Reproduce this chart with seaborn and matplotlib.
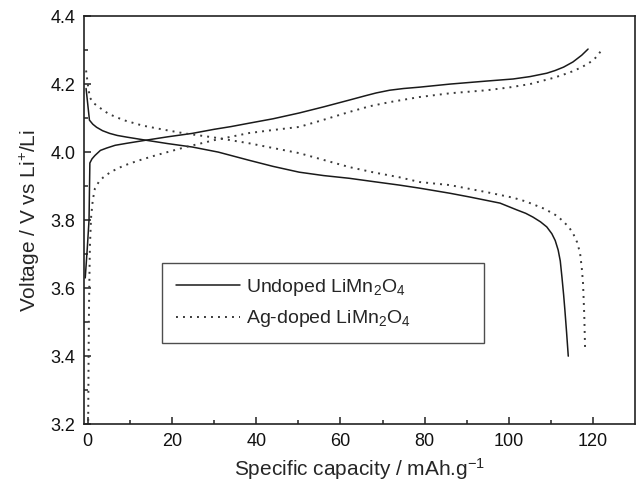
import matplotlib
matplotlib.use("Agg")
import matplotlib.pyplot as plt
import seaborn as sns

sns.set_theme(style="white")
plt.rcParams['font.family'] = ['Liberation Sans', 'DejaVu Sans']
plt.rcParams['mathtext.fontset'] = 'custom'
plt.rcParams['mathtext.rm'] = 'Liberation Sans'
plt.rcParams['mathtext.it'] = 'Liberation Sans'

# Undoped LiMn2O4 - charge
und_chg_x = [-0.6, -0.1, 0.3, 0.5, 1.0, 1.7, 3.0, 4.5, 6.5, 9.3, 13.8, 19.0, 24.8, 30.0, 34.0, 38.3, 44.0,
             50.2, 56.0, 62.1, 66.0, 68.5, 71.7, 75.0, 78.8, 86.0, 94.8, 101.0, 105.0, 109.0, 111.0,
             113.0, 115.2, 117.3, 118.8]
und_chg_y = [3.63, 3.72, 3.80, 3.968, 3.980, 3.990, 4.005, 4.012, 4.020, 4.026, 4.035, 4.045, 4.055, 4.067, 4.075,
             4.085, 4.098, 4.115, 4.133, 4.153, 4.166, 4.174, 4.182, 4.187, 4.191, 4.200, 4.209, 4.215, 4.222,
             4.232, 4.240, 4.250, 4.265, 4.285, 4.303]
# Undoped LiMn2O4 - discharge
und_dis_x = [-0.4, 0.4, 1.2, 2.1, 3.5, 5.2, 7.0, 9.3, 13.8, 19.0, 24.8, 31.0, 38.3, 44.0, 50.2, 56.0, 62.1,
             68.0, 74.0, 78.8, 86.0, 90.7, 97.9, 101.9, 104.0, 105.7, 107.5, 109.0, 110.2, 111.0, 111.7,
             112.2, 112.6, 113.0, 113.3, 113.7, 114.1]
und_dis_y = [4.187, 4.094, 4.082, 4.073, 4.063, 4.055, 4.049, 4.044, 4.035, 4.025, 4.015, 4.000, 3.976, 3.958,
             3.941, 3.931, 3.923, 3.913, 3.903, 3.894, 3.879, 3.868, 3.850, 3.830, 3.820, 3.809, 3.795, 3.780,
             3.760, 3.740, 3.712, 3.680, 3.632, 3.580, 3.535, 3.470, 3.400]
# Ag-doped LiMn2O4 - charge
ag_chg_x = [0.1, 0.2, 0.3, 0.5, 0.8, 1.2, 1.7, 2.6, 3.7, 5.5, 8.5, 12.0, 16.0, 23.3, 30.0, 38.3, 44.0, 50.2,
            56.0, 62.1, 67.0, 71.7, 78.8, 86.0, 94.8, 100.0, 105.0, 110.5, 113.0, 115.0, 117.0, 118.5,
            120.0, 121.0, 122.0]
ag_chg_y = [3.21, 3.40, 3.55, 3.72, 3.81, 3.86, 3.893, 3.912, 3.926, 3.942, 3.960, 3.975, 3.990, 4.015, 4.035,
            4.056, 4.065, 4.074, 4.095, 4.118, 4.135, 4.147, 4.162, 4.173, 4.182, 4.190, 4.200, 4.218, 4.228,
            4.237, 4.248, 4.258, 4.270, 4.283, 4.300]
# Ag-doped LiMn2O4 - discharge
ag_dis_x = [-0.4, 0.0, 0.5, 1.5, 2.9, 5.0, 8.5, 13.0, 18.0, 23.0, 30.0, 38.3, 44.0, 50.2, 56.0, 62.1, 68.0,
            74.0, 78.8, 86.0, 94.8, 97.9, 101.0, 104.0, 108.1, 109.8, 111.5, 113.0, 114.2, 115.2, 116.2,
            116.9, 117.3, 117.6, 117.9, 118.1]
ag_dis_y = [4.240, 4.200, 4.160, 4.143, 4.130, 4.112, 4.094, 4.078, 4.066, 4.055, 4.043, 4.026, 4.012, 3.997,
            3.977, 3.956, 3.940, 3.926, 3.912, 3.903, 3.882, 3.874, 3.866, 3.855, 3.835, 3.824, 3.812, 3.795,
            3.780, 3.762, 3.735, 3.703, 3.660, 3.615, 3.520, 3.418]

series_names = ["Undoped LiMn$_2$O$_4$", "Ag-doped LiMn$_2$O$_4$"]

fig = plt.figure(figsize=(6.41, 4.87), dpi=100)
ax = fig.add_axes([0.131, 0.129, 0.860, 0.838])

solid_kw = dict(color="#1a1a1a", lw=1.1, linestyle="-")
dot_kw = dict(color="#3a3a3a", lw=1.4, linestyle=(0, (1.0, 2.6)))

sns.lineplot(x=und_chg_x, y=und_chg_y, sort=False, estimator=None, ax=ax, label=series_names[0], **solid_kw)
sns.lineplot(x=und_dis_x, y=und_dis_y, sort=False, estimator=None, ax=ax, **solid_kw)
sns.lineplot(x=ag_chg_x, y=ag_chg_y, sort=False, estimator=None, ax=ax, label=series_names[1], **dot_kw)
sns.lineplot(x=ag_dis_x, y=ag_dis_y, sort=False, estimator=None, ax=ax, **dot_kw)

ax.set_xlim(-0.9, 130)
ax.set_ylim(3.2, 4.4)
ax.set_xticks([0, 20, 40, 60, 80, 100, 120])
ax.set_xticks([10, 30, 50, 70, 90, 110], minor=True)
ax.set_yticks([3.2, 3.4, 3.6, 3.8, 4.0, 4.2, 4.4])
ax.set_yticklabels(["3.2", "3.4", "3.6", "3.8", "4.0", "4.2", "4.4"])
ax.set_yticks([3.3, 3.5, 3.7, 3.9, 4.1, 4.3], minor=True)
ax.tick_params(axis="both", which="both", direction="in", top=False, right=False,
               left=True, bottom=True, colors="#222222", labelcolor="#111111")
ax.tick_params(axis="both", which="major", length=5, width=1.1, labelsize=13, pad=6)
ax.tick_params(axis="both", which="minor", length=3, width=1.1)
for s in ax.spines.values():
    s.set_color("#222222")
    s.set_linewidth(1.2)

ax.set_xlabel("Specific capacity / mAh.g$^{-1}$", fontsize=15, labelpad=5)
ax.set_ylabel("Voltage / V vs Li$^{+}$/Li", fontsize=15, labelpad=6)

leg = ax.legend(loc="lower left", bbox_to_anchor=(0.142, 0.199, 0.583, 0.199), mode="expand",
                frameon=True, fancybox=False, edgecolor="#222222", fontsize=14,
                handlelength=3.3, handletextpad=0.3, borderpad=0.7, labelspacing=0.55,
                borderaxespad=0)
leg.get_frame().set_linewidth(1.0)

fig.savefig("out.png", dpi=100)
